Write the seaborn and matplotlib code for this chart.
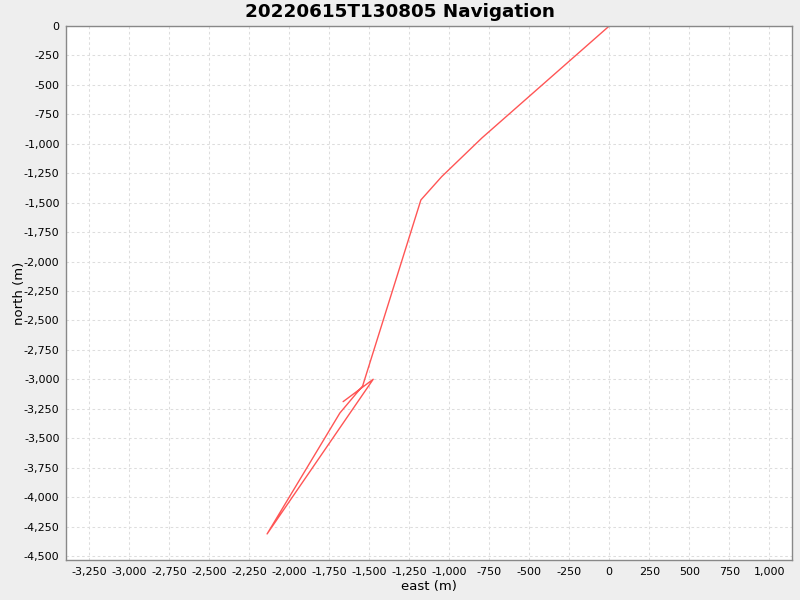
import matplotlib
matplotlib.use("Agg")
import matplotlib.pyplot as plt
import matplotlib.ticker as mticker
import seaborn as sns
import pandas as pd

east = [0, -796, -1047, -1177, -1541, -1683, -2138, -1475, -1663]
north = [0, -951, -1279, -1477, -3056, -3285, -4312, -2999, -3189]

title = "20220615T130805 Navigation"
xlabel = "east (m)"
ylabel = "north (m)"

df = pd.DataFrame({"east": east, "north": north})

sns.set_style("white")
plt.rcParams['font.family'] = ['DejaVu Sans']
plt.rcParams['text.color'] = 'black'
plt.rcParams['axes.labelcolor'] = 'black'
plt.rcParams['xtick.color'] = 'black'
plt.rcParams['ytick.color'] = 'black'

fig = plt.figure(figsize=(8, 6), dpi=100, facecolor="#EEEEEE")
ax = fig.add_axes([0.083, 0.0667, 0.9066, 0.89])
ax.set_facecolor("white")

sns.lineplot(data=df, x="east", y="north", sort=False, estimator=None,
             color="#FF5555", linewidth=1.0, ax=ax)

ax.set_xlim(-3392, 1140)
ax.set_ylim(-4533, 0)
ax.xaxis.set_major_locator(mticker.MultipleLocator(250))
ax.yaxis.set_major_locator(mticker.MultipleLocator(250))
fmt = mticker.FuncFormatter(lambda v, p: f"{int(round(v)):,}")
ax.xaxis.set_major_formatter(fmt)
ax.yaxis.set_major_formatter(fmt)

ax.grid(True, color="#DDDDDD", linestyle=(0, (2.5, 2.5)), linewidth=0.75)
for s in ax.spines.values():
    s.set_color("#888888")
    s.set_linewidth(1.0)
ax.tick_params(axis="both", which="major", labelsize=8, length=3,
               color="#888888", labelcolor="black", direction="out", pad=2)

ax.set_xlabel(xlabel, fontsize=9.5, labelpad=2, color="black")
ax.set_ylabel(ylabel, fontsize=9.5, labelpad=-2, color="black")
fig.suptitle(title, fontsize=13.2, fontweight="bold", y=0.995, va="top",
             color="black")

fig.savefig("out.png", dpi=100, facecolor=fig.get_facecolor())
